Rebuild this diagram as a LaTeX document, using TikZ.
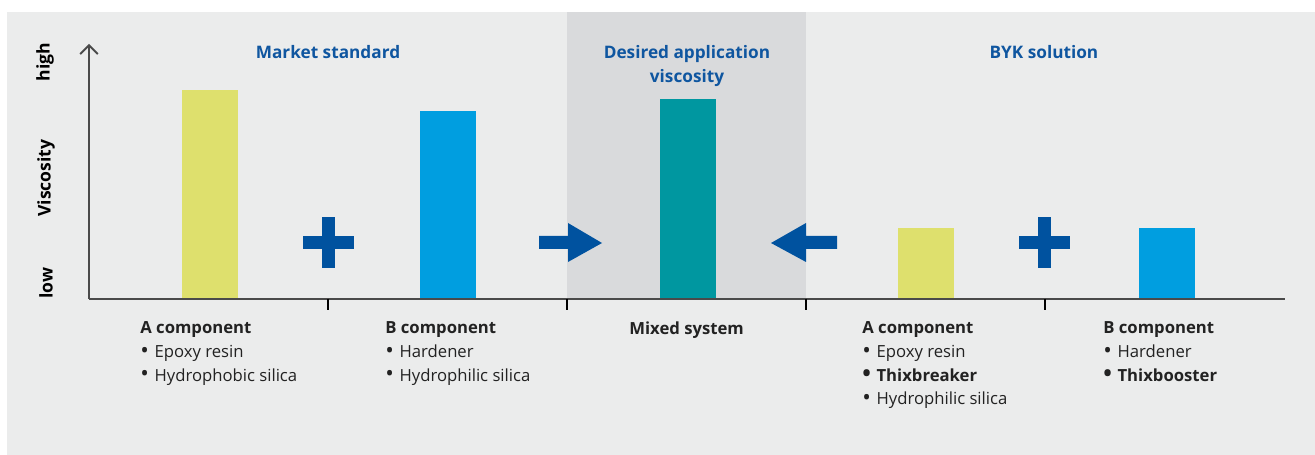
\documentclass[tikz,border=0pt]{standalone}
\usepackage{fontspec}
\setmainfont{Open Sans}
\usepackage{tikz}
\usetikzlibrary{arrows.meta, positioning}

\definecolor{panelGray}{HTML}{EBECEC}
\definecolor{mixGray}{HTML}{D9DADC}
\definecolor{bykYellow}{HTML}{DEE06D}
\definecolor{bykCyan}{HTML}{009EE0}
\definecolor{bykTeal}{HTML}{0097A0}
\definecolor{bykBlue}{HTML}{00529F}
\definecolor{headBlue}{HTML}{0F56A0}
\definecolor{axisGray}{HTML}{4A4A4A}
\definecolor{textDark}{HTML}{222222}

\newcommand{\bulletdot}{{\fontsize{13}{13.6}\selectfont\raisebox{-0.5pt}{•}}\hspace{3.2pt}}

\begin{document}
\begin{tikzpicture}[x=0.02cm, y=-0.02cm, line cap=butt,
  heading/.style={text=headBlue, font=\fontsize{9.8}{13.6}\selectfont\bfseries, align=center, inner sep=0pt, anchor=north},
  complabel/.style={text=textDark, font=\fontsize{9.5}{13.6}\selectfont, align=left, inner sep=0pt, anchor=north west},
  ylabel/.style={text=black, font=\fontsize{10}{12}\selectfont\bfseries, rotate=90, inner sep=0pt},
  axisline/.style={axisGray, line width=1.1pt},
  tickline/.style={black, line width=0.8pt}]

  \useasboundingbox (0,0) rectangle (1315,455);
  \fill[panelGray] (7,12) rectangle (1315,455);
  \fill[mixGray] (567,12) rectangle (806,299);

  % bars
  \fill[bykYellow] (182,90) rectangle (238,299);
  \fill[bykCyan] (420,111) rectangle (476,299);
  \fill[bykTeal] (660,99) rectangle (716,299);
  \fill[bykYellow] (898,228) rectangle (954,299);
  \fill[bykCyan] (1139,228) rectangle (1195,299);

  % plus signs
  \foreach \px in {328.5, 1044.5} {
    \fill[bykBlue] (\px-6.5,217) rectangle (\px+6.5,268);
    \fill[bykBlue] (\px-25.5,236.5) rectangle (\px+25.5,249.5);
  }

  % block arrows
  \fill[bykBlue] (539,236) -- (568,236) -- (568,223) -- (602,243) -- (568,262) -- (568,249) -- (539,249) -- cycle;
  \fill[bykBlue] (837,236) -- (806,236) -- (806,223) -- (771,243) -- (806,262) -- (806,249) -- (837,249) -- cycle;

  % axes
  \coordinate (origin) at (89,299);
  \coordinate (ytop) at (89,44);
  \coordinate (xend) at (1285,299);
  \draw[axisline, -{Straight Barb[length=5pt, width=10pt]}] (origin) -- (ytop);
  \draw[axisline] (origin) -- (xend);
  \foreach \tx in {328, 567, 806, 1045}
    \draw[tickline] (\tx,299) -- (\tx,310);

  % axis labels
  \node[ylabel] (high) at (45,62) {high};
  \node[ylabel] (visc) at (46,178) {Viscosity};
  \node[ylabel] (low) at (46,283) {low};

  % headings
  \node[heading] (market) at (328,45) {Market standard};
  \node[heading] (desired) at (687,45) {Desired application\\viscosity};
  \node[heading] (byk) at (1044,45) {BYK solution};

  % component labels
  \node[complabel] (compA) at (140,321) {\textbf{A component}\\\bulletdot Epoxy resin\\\bulletdot Hydrophobic silica};
  \node[complabel] (compB) at (385,321) {\textbf{B component}\\\bulletdot Hardener\\\bulletdot Hydrophilic silica};
  \node[complabel] (mixed) at (629,321) {\textbf{Mixed system}};
  \node[complabel] (bykA) at (862,321) {\textbf{A component}\\\bulletdot Epoxy resin\\\textbf{\bulletdot Thixbreaker}\\\bulletdot Hydrophilic silica};
  \node[complabel] (bykB) at (1103,321) {\textbf{B component}\\\bulletdot Hardener\\\textbf{\bulletdot Thixbooster}};

\end{tikzpicture}
\end{document}
